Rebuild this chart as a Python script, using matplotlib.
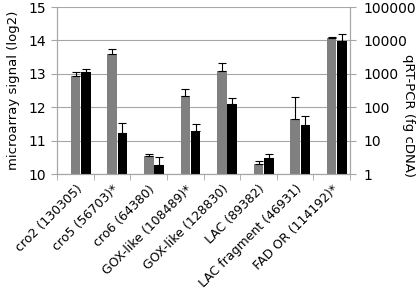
import numpy as np
import matplotlib
matplotlib.use("Agg")
import matplotlib.pyplot as plt
from matplotlib.ticker import FixedLocator, NullLocator, FuncFormatter

# data
labels = ["cro2 (130305)", "cro5 (56703)*", "cro6 (64380)", "GOX-like (108489)*",
          "GOX-like (128830)", "LAC (89382)", "LAC fragment (46931)", "FAD OR (114192)*"]
micro = [12.94, 13.60, 10.56, 12.35, 13.10, 10.30, 11.64, 14.08]
micro_err = [0.11, 0.14, 0.05, 0.21, 0.24, 0.11, 0.68, 0.03]
qpcr = [1150, 17, 1.9, 20, 126, 3.1, 30, 9800]
qpcr_err = [230, 17, 1.3, 12, 70, 0.9, 24, 6200]

plt.rcParams['font.family'] = ['DejaVu Sans']
fig = plt.figure(figsize=(4.2, 2.98), dpi=100)
ax = fig.add_axes([0.1364, 0.415, 0.6969, 0.5615])
ax2 = ax.twinx()

x = np.arange(len(labels))
w = 0.26
grid_c = '#a6a6a6'

ax.bar(x + 0.0, np.array(micro) - 10, w, bottom=10, color='#808080', zorder=2,
       yerr=[np.zeros(len(micro)), micro_err], error_kw=dict(ecolor='black', elinewidth=0.8, capsize=3, capthick=0.8))
ax2.set_yscale('log')
ax2.bar(x + 0.28, np.array(qpcr) - 1, w, bottom=1, color='black', zorder=2,
        yerr=[np.zeros(len(qpcr)), qpcr_err], error_kw=dict(ecolor='black', elinewidth=0.8, capsize=3, capthick=0.8))

ax.set_xlim(-0.5, len(labels) - 0.5)
ax.set_ylim(10, 15)
ax.set_yticks(range(10, 16))
ax2.set_ylim(1, 100000)
ax2.yaxis.set_major_locator(FixedLocator([1, 10, 100, 1000, 10000, 100000]))
ax2.yaxis.set_minor_locator(NullLocator())
ax2.yaxis.set_major_formatter(FuncFormatter(lambda v, p: f"{int(round(v))}"))

ax.yaxis.grid(True, color=grid_c, linewidth=0.8)
ax.set_axisbelow(True)

ax.set_xticks(x)
ax.set_xticklabels(labels, rotation=45, ha='right', rotation_mode='anchor', fontsize=9)
ax.tick_params(axis='x', length=0, pad=6)
ax.set_xticks(np.arange(-0.5, len(labels)), minor=True)
ax.tick_params(axis='x', which='minor', length=4, color=grid_c)

ax.tick_params(axis='y', labelsize=10, length=4, color=grid_c, pad=4)
ax2.tick_params(axis='y', labelsize=10, length=4, color=grid_c, pad=6)

for a in (ax, ax2):
    a.spines['top'].set_visible(False)
    for s in ('left', 'right', 'bottom'):
        a.spines[s].set_color(grid_c)

ax.set_ylabel('microarray signal (log2)', fontsize=9.5, labelpad=6)
ax2.set_ylabel('qRT-PCR (fg cDNA)', fontsize=9.5, rotation=-90, va='center', ha='center')
ax2.yaxis.set_label_coords(1.2, 0.35)

fig.savefig('out.png', dpi=100)
